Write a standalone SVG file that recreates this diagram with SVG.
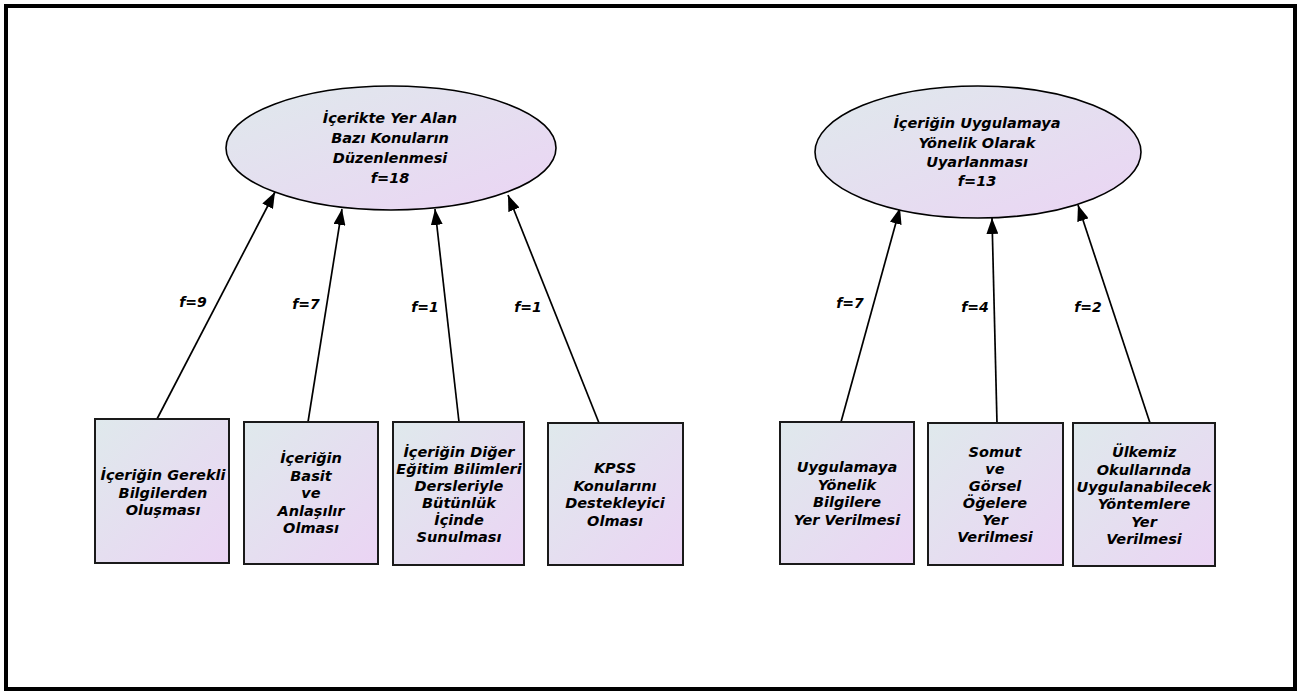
<svg xmlns="http://www.w3.org/2000/svg" width="1299" height="693" viewBox="0 0 1299 693">
<defs>
<linearGradient id="g" x1="0" y1="0" x2="1" y2="1">
<stop offset="0" stop-color="#dfe9ec"/>
<stop offset="1" stop-color="#ebd4f4"/>
</linearGradient>
<marker id="arr" markerUnits="userSpaceOnUse" markerWidth="16" markerHeight="12" viewBox="0 0 16 12" refX="16" refY="6" orient="auto">
<path d="M0,0 L16,6 L0,12 z" fill="#000"/>
</marker>
</defs>
<style>
.node{fill:url(#g);stroke:#1a1a1a;stroke-width:2}
.ell{fill:url(#g);stroke:#000;stroke-width:1.6}
.t{font-family:"DejaVu Sans",sans-serif;font-weight:bold;font-style:italic;font-size:14.5px;fill:#000;text-anchor:middle}
.te{font-family:"DejaVu Sans",sans-serif;font-weight:bold;font-style:italic;font-size:14.5px;fill:#000;text-anchor:middle}
.lbl{font-family:"DejaVu Sans",sans-serif;font-weight:bold;font-style:italic;font-size:14px;fill:#000;text-anchor:middle}
.edge{stroke:#000;stroke-width:1.7;fill:none;marker-end:url(#arr)}
</style>
<rect x="0" y="0" width="1299" height="693" fill="#fff"/>
<rect x="6" y="6" width="1289" height="683" fill="none" stroke="#000" stroke-width="4"/>

<g id="connectors">
<line class="edge" x1="157" y1="419" x2="275" y2="192"/>
<line class="edge" x1="308" y1="422" x2="342" y2="209"/>
<line class="edge" x1="459" y1="422" x2="435" y2="209"/>
<line class="edge" x1="599" y1="423" x2="508" y2="195"/>
<line class="edge" x1="841" y1="422" x2="900" y2="208"/>
<line class="edge" x1="997" y1="423" x2="992" y2="218"/>
<line class="edge" x1="1150" y1="423" x2="1078" y2="205"/>
<text class="lbl" x="193" y="307">f=9</text>
<text class="lbl" x="306" y="309">f=7</text>
<text class="lbl" x="425" y="312">f=1</text>
<text class="lbl" x="528" y="312">f=1</text>
<text class="lbl" x="850" y="308">f=7</text>
<text class="lbl" x="975" y="312">f=4</text>
<text class="lbl" x="1088" y="312">f=2</text>
</g>

<g id="e1">
<ellipse class="ell" cx="391" cy="148" rx="165" ry="62"/>
<text class="te" x="390" y="123">İçerikte Yer Alan</text>
<text class="te" x="390" y="143">Bazı Konuların</text>
<text class="te" x="390" y="163">Düzenlenmesi</text>
<text class="te" x="390" y="183">f=18</text>
</g>

<g id="e2">
<ellipse class="ell" cx="978" cy="152" rx="163" ry="66"/>
<text class="te" x="977" y="128">İçeriğin Uygulamaya</text>
<text class="te" x="977" y="147.5">Yönelik Olarak</text>
<text class="te" x="977" y="167">Uyarlanması</text>
<text class="te" x="977" y="186">f=13</text>
</g>

<g id="b1">
<rect class="node" x="95" y="419" width="134" height="144"/>
<text class="t" x="163" y="480">İçeriğin Gerekli</text>
<text class="t" x="163" y="497.5">Bilgilerden</text>
<text class="t" x="163" y="515">Oluşması</text>
</g>

<g id="b2">
<rect class="node" x="244" y="422" width="134" height="142"/>
<text class="t" x="311" y="463">İçeriğin</text>
<text class="t" x="311" y="480.5">Basit</text>
<text class="t" x="311" y="498">ve</text>
<text class="t" x="311" y="515.5">Anlaşılır</text>
<text class="t" x="311" y="533">Olması</text>
</g>

<g id="b3">
<rect class="node" x="393" y="422" width="131" height="143"/>
<text class="t" x="459" y="457">İçeriğin Diğer</text>
<text class="t" x="459" y="474">Eğitim Bilimleri</text>
<text class="t" x="459" y="491">Dersleriyle</text>
<text class="t" x="459" y="508">Bütünlük</text>
<text class="t" x="459" y="525">İçinde</text>
<text class="t" x="459" y="542">Sunulması</text>
</g>

<g id="b4">
<rect class="node" x="548" y="423" width="135" height="142"/>
<text class="t" x="615" y="473">KPSS</text>
<text class="t" x="615" y="490.5">Konularını</text>
<text class="t" x="615" y="508">Destekleyici</text>
<text class="t" x="615" y="525.5">Olması</text>
</g>

<g id="b5">
<rect class="node" x="780" y="422" width="134" height="142"/>
<text class="t" x="847" y="472">Uygulamaya</text>
<text class="t" x="847" y="489.5">Yönelik</text>
<text class="t" x="847" y="507">Bilgilere</text>
<text class="t" x="847" y="524.5">Yer Verilmesi</text>
</g>

<g id="b6">
<rect class="node" x="928" y="423" width="135" height="142"/>
<text class="t" x="995" y="457">Somut</text>
<text class="t" x="995" y="474">ve</text>
<text class="t" x="995" y="491">Görsel</text>
<text class="t" x="995" y="508">Öğelere</text>
<text class="t" x="995" y="525">Yer</text>
<text class="t" x="995" y="542">Verilmesi</text>
</g>

<g id="b7">
<rect class="node" x="1073" y="423" width="142" height="143"/>
<text class="t" x="1144" y="457">Ülkemiz</text>
<text class="t" x="1144" y="474.5">Okullarında</text>
<text class="t" x="1144" y="492">Uygulanabilecek</text>
<text class="t" x="1144" y="509">Yöntemlere</text>
<text class="t" x="1144" y="526.5">Yer</text>
<text class="t" x="1144" y="543.5">Verilmesi</text>
</g>
</svg>
